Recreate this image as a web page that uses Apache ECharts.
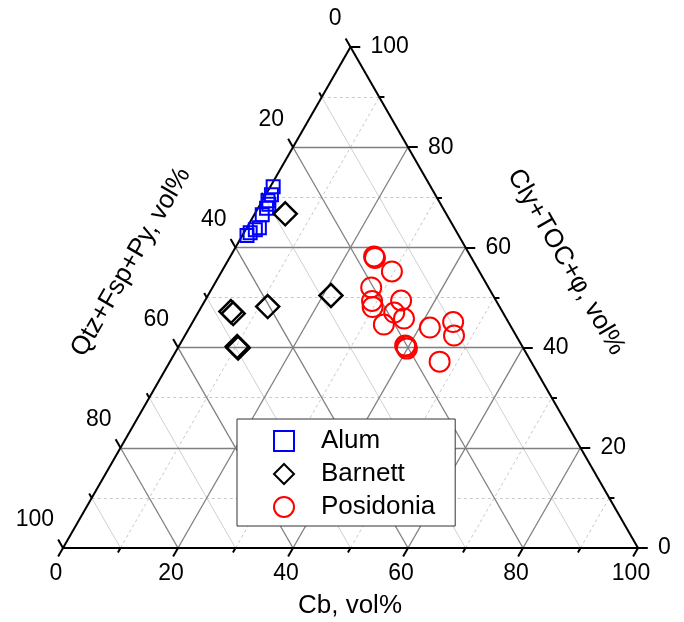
<!DOCTYPE html>
<html lang="en">
<head>
    <meta charset="UTF-8">
    <title>Ternary</title>
    <script src="https://cdn.jsdelivr.net/npm/echarts@6/dist/echarts.min.js"></script>
    <style>
        html, body { margin: 0; padding: 0; background: #fff; }
        #main { width: 684px; height: 622px; }
    </style>
</head>
<body>
<div id="main"></div>
<script>
    // ternary data: Cb (bottom), Cly+TOC+phi (right); Qtz+Fsp+Py = 100 - Cb - Cly
    var alumCb  = [0.5, 1, 1, 1.5, 1.5, 1.4, 2.2, 1.7, 1.1, 0.8];
    var alumCly = [72.1, 70.5, 69.3, 67.8, 68.6, 66.5, 63.9, 63.5, 62.9, 62.4];

    var barnettCb  = [5.3, 21.4, 11.5, 6.2, 5.6, 10.5, 10.2];
    var barnettCly = [66.7, 50.4, 48.2, 46.8, 47.2, 39.9, 40.2];

    var posidoniaCb  = [25.0, 25.3, 29.6, 27.6, 34.1, 29.1, 29.8, 33.5, 34.1, 36.4, 41.8, 45.3, 46.8, 39.6, 39.9, 39.3, 46.9];
    var posidoniaCly = [58.2, 57.9, 55.2, 52.0, 49.4, 49.3, 48.1, 44.6, 47.0, 45.8, 44.0, 45.1, 42.4, 40.2, 39.8, 40.4, 37.2];

    var majorTicks = [0, 20, 40, 60, 80, 100];
    var minorTicks = [10, 30, 50, 70, 90];
    var tickLabels = ['0', '20', '40', '60', '80', '100'];

    var FONT = 'Liberation Sans, Arial, sans-serif';
    var H = Math.sqrt(3) / 2;

    // ternary (cb, cly) -> cartesian
    function tp(cb, cly) {
        return [cb + cly / 2, cly * H];
    }

    function pts(cbs, clys) {
        return cbs.map(function (v, i) { return tp(v, clys[i]); });
    }

    // grid lines
    var majorLines = [], minorDash = [], minorSolid = [];
    majorTicks.slice(1, 5).forEach(function (v) {
        majorLines.push({coords: [tp(0, v), tp(100 - v, v)]});
        majorLines.push({coords: [tp(v, 0), tp(v, 100 - v)]});
        majorLines.push({coords: [tp(0, 100 - v), tp(100 - v, 0)]});
    });
    minorTicks.forEach(function (v) {
        minorDash.push({coords: [tp(0, v), tp(100 - v, v)]});
        minorDash.push({coords: [tp(v, 0), tp(v, 100 - v)]});
        minorSolid.push({coords: [tp(0, 100 - v), tp(100 - v, 0)]});
    });

    // frame + ticks
    var frame = [
        {coords: [tp(0, 0), tp(100, 0)]},
        {coords: [tp(100, 0), tp(0, 100)]},
        {coords: [tp(0, 100), tp(0, 0)]}
    ];
    function addTicks(list, L) {
        list.forEach(function (v) {
            frame.push({coords: [tp(v, 0), tp(v, -L)]});                   // bottom (Cb)
            frame.push({coords: [tp(100 - v, v), tp(100 - v + L, v)]});    // right (Cly)
            frame.push({coords: [tp(0, 100 - v), tp(-L, 100 - v + L)]});   // left (Qtz)
        });
    }
    addTicks(majorTicks, 1.7);
    addTicks(minorTicks, 0.9);

    var bottomLab = majorTicks.map(function (v, i) { return {value: tp(v, 0), name: tickLabels[i]}; });
    var rightLab = majorTicks.map(function (v, i) { return {value: tp(100 - v, v), name: tickLabels[i]}; });
    var leftLab = majorTicks.map(function (v, i) { return {value: tp(0, 100 - v), name: tickLabels[i]}; });

    function labelSeries(data, align, offset) {
        return {
            type: 'scatter', data: data, symbolSize: 0, silent: true, clip: false,
            itemStyle: {opacity: 1},
            label: {
                show: true, formatter: '{b}', position: [0, 0],
                align: align, verticalAlign: 'middle', offset: offset,
                fontFamily: FONT, fontSize: 23, color: '#000'
            }
        };
    }

    function linesSeries(data, color, width, type, z) {
        return {
            type: 'lines', coordinateSystem: 'cartesian2d', data: data, silent: true, clip: false, z: z,
            lineStyle: {color: color, width: width, type: type, opacity: 1}
        };
    }

    var chart = echarts.init(document.getElementById('main'));
    var option = {
        animation: false,
        backgroundColor: '#fff',
        grid: {left: 63, right: 46, top: 47, bottom: 74},
        xAxis: {type: 'value', min: 0, max: 100, show: false},
        yAxis: {type: 'value', min: 0, max: 100 * H, show: false},
        legend: {
            data: ['Alum', 'Barnett', 'Posidonia'],
            orient: 'vertical', left: 237, top: 419,
            backgroundColor: '#fff', borderColor: '#333', borderWidth: 1,
            padding: [9, 20, 6, 36],
            itemWidth: 20, itemHeight: 20, itemGap: 7,
            itemStyle: {borderWidth: 2},
            textStyle: {fontFamily: FONT, fontSize: 26, color: '#000', lineHeight: 26, padding: [0, 0, 0, 22]}
        },
        graphic: [
            {type: 'text', x: 350, y: 606, style: {text: 'Cb, vol%', font: '26px ' + FONT, fill: '#000', align: 'center', verticalAlign: 'middle'}},
            {type: 'text', x: 131, y: 262, rotation: Math.PI / 3, style: {text: 'Qtz+Fsp+Py, vol%', font: '26px ' + FONT, fill: '#000', align: 'center', verticalAlign: 'middle'}},
            {type: 'text', x: 566, y: 262, rotation: -Math.PI / 3, style: {text: 'Cly+TOC+\u03c6, vol%', font: '26px ' + FONT, fill: '#000', align: 'center', verticalAlign: 'middle'}}
        ],
        series: [
            linesSeries(minorSolid, '#d0d0d0', 1, 'solid', 1),
            linesSeries(minorDash, '#c8c8c8', 1, [3, 3], 1),
            linesSeries(majorLines, '#808080', 1.3, 'solid', 2),
            linesSeries(frame, '#000', 2, 'solid', 3),
            labelSeries(bottomLab, 'center', [-7, 26]),
            labelSeries(rightLab, 'left', [20, 0]),
            labelSeries(leftLab, 'right', [-9, -28]),
            {
                name: 'Alum', type: 'scatter', z: 5, clip: false,
                data: pts(alumCb, alumCly), symbol: 'rect', symbolSize: 13,
                itemStyle: {color: 'rgba(0,0,0,0)', borderColor: '#0000ff', borderWidth: 2, opacity: 1}
            },
            {
                name: 'Barnett', type: 'scatter', z: 5, clip: false,
                data: pts(barnettCb, barnettCly), symbol: 'diamond', symbolSize: 23,
                itemStyle: {color: 'rgba(0,0,0,0)', borderColor: '#000', borderWidth: 2.5, opacity: 1}
            },
            {
                name: 'Posidonia', type: 'scatter', z: 5, clip: false,
                data: pts(posidoniaCb, posidoniaCly), symbol: 'circle', symbolSize: 20,
                itemStyle: {color: 'rgba(0,0,0,0)', borderColor: '#ff0000', borderWidth: 2, opacity: 1}
            }
        ]
    };
    chart.setOption(option);
</script>
</body>
</html>
